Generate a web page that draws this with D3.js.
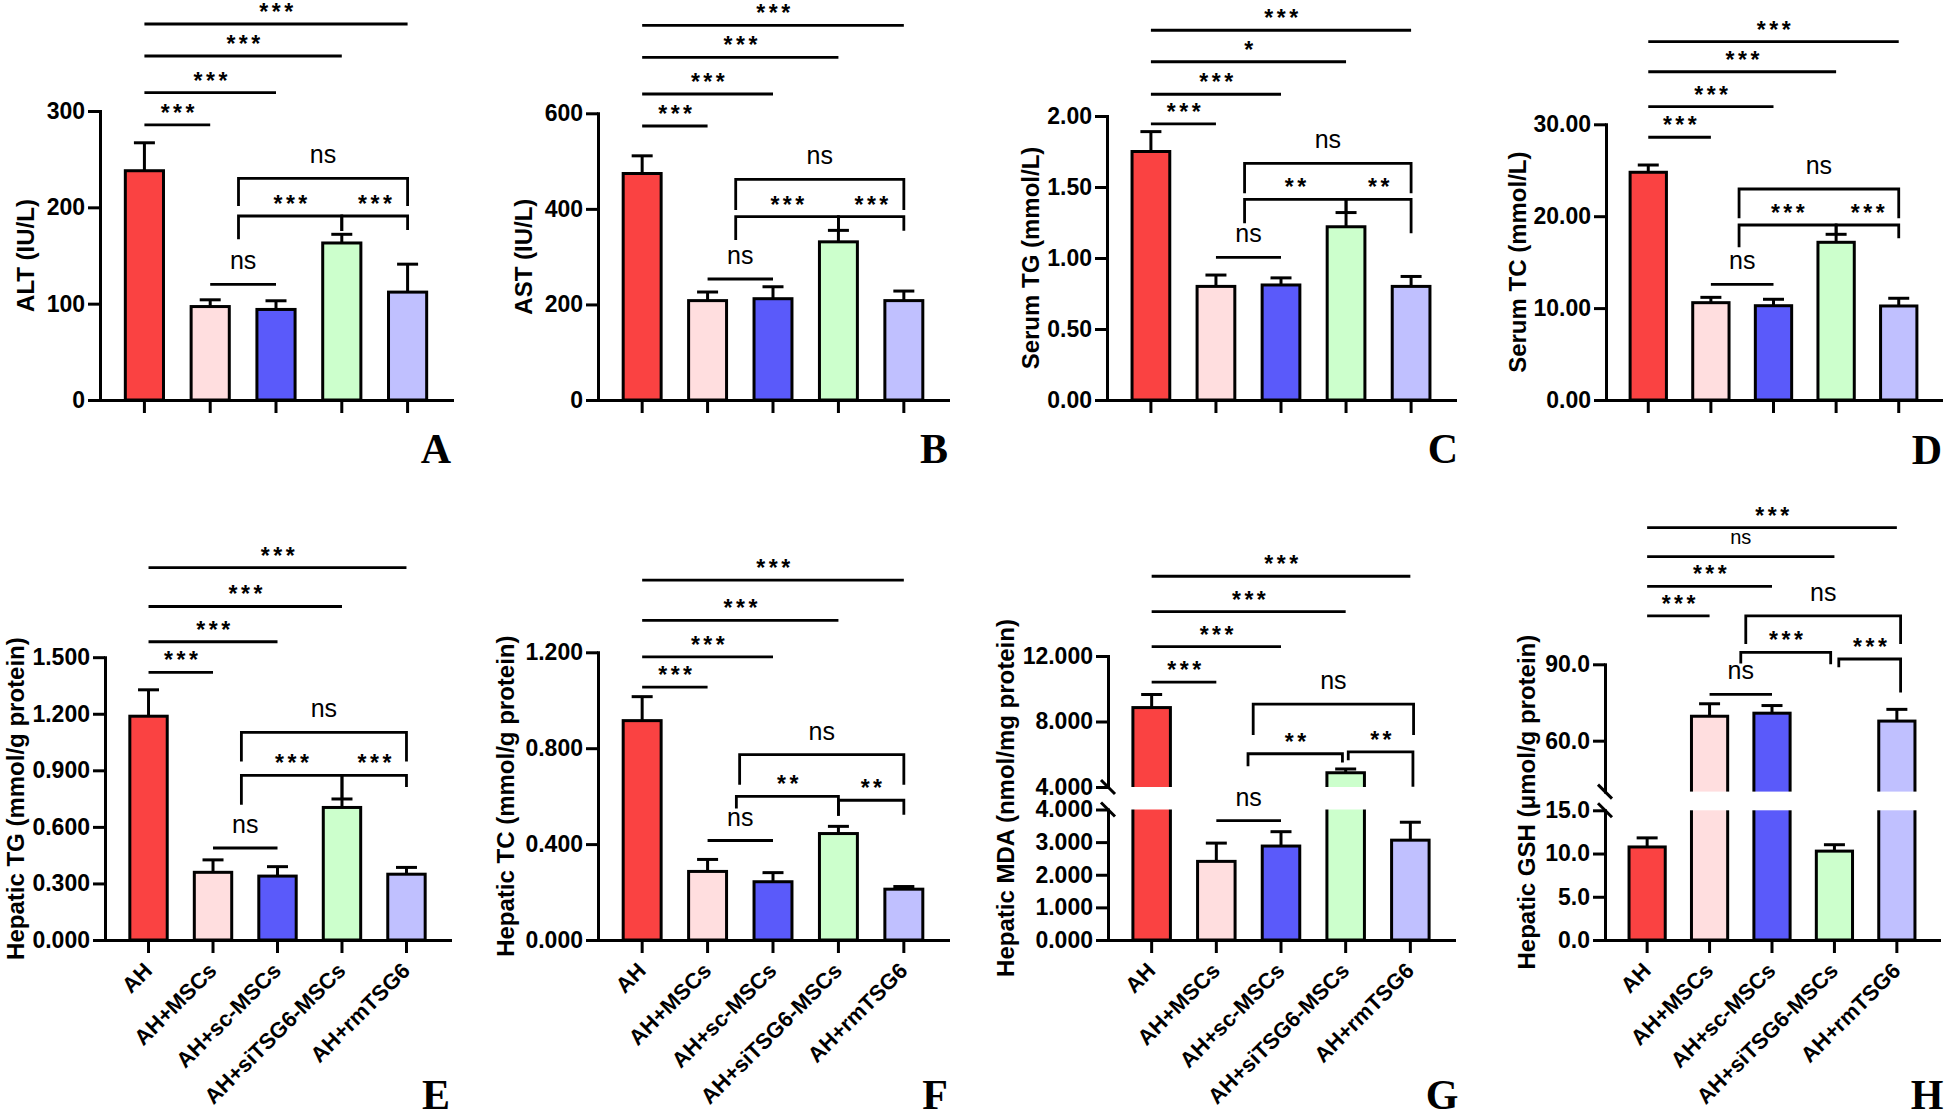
<!DOCTYPE html>
<html><head><meta charset="utf-8">
<script src="https://cdn.jsdelivr.net/npm/d3@7"></script>
<style>
body{margin:0;background:#fff}
svg{display:block}
text{font-family:"Liberation Sans",Arial,sans-serif}
</style>
</head><body>
<svg id="chart" width="1946" height="1120"></svg>
<script>
// ---------- DATA ----------
const groups = ["AH","AH+MSCs","AH+sc-MSCs","AH+siTSG6-MSCs","AH+rmTSG6"];

const altMean = [238, 97, 94, 163, 112];
const altSD   = [29, 7, 9, 9, 29];
const astMean = [474, 208, 212, 331, 208];
const astSD   = [37, 18, 25, 24, 20];
const sTGMean = [1.75, 0.80, 0.81, 1.22, 0.80];
const sTGSD   = [0.14, 0.08, 0.05, 0.10, 0.07];
const sTCMean = [24.78, 10.59, 10.26, 17.16, 10.23];
const sTCSD   = [0.79, 0.58, 0.70, 0.87, 0.84];
const hTGMean = [1.187, 0.359, 0.339, 0.703, 0.349];
const hTGSD   = [0.140, 0.066, 0.050, 0.045, 0.036];
const hTCMean = [0.915, 0.286, 0.243, 0.444, 0.212];
const hTCSD   = [0.100, 0.050, 0.038, 0.030, 0.011];
const mdaMean = [8.85, 2.41, 2.88, 4.87, 3.06];
const mdaSD   = [0.80, 0.56, 0.44, 0.23, 0.55];
const gshMean = [10.76, 69.6, 70.8, 10.28, 67.7];
const gshSD   = [1.05, 4.9, 3.0, 0.74, 4.6];

const altTicks = [0, 100, 200, 300];
const astTicks = [0, 200, 400, 600];
const sTGTicks = [0, 0.5, 1.0, 1.5, 2.0];
const sTCTicks = [0, 10, 20, 30];
const hTGTicks = [0, 0.3, 0.6, 0.9, 1.2, 1.5];
const hTCTicks = [0, 0.4, 0.8, 1.2];
const mdaTicksLow  = [0, 1, 2, 3, 4];
const mdaTicksHigh = [4, 8, 12];
const gshTicksLow  = [0, 5, 10, 15];
const gshTicksHigh = [60, 90];

// significance annotations: [fromGroupIndex, toGroupIndex, y (data units), leftLegEnd, rightLegEnd, label, fontSize]
const annA = [[0,1,285.5,null,null,"***"],[0,2,319.0,null,null,"***"],[0,3,357.1,null,null,"***"],[0,4,390.3,null,null,"***"],
  [1.43,4,230.1,201.4,201.4,"ns"],[1.43,3,191.0,166.8,175.4,"***"],[3,4,191.0,175.4,176.5,"***"],[1,2,120.1,null,null,"ns"]];
const annB = [[0,1,573.4,null,null,"***"],[0,2,640.4,null,null,"***"],[0,3,717.2,null,null,"***"],[0,4,784.2,null,null,"***"],
  [1.43,4,461.9,397.6,397.6,"ns"],[1.43,3,383.6,334.8,354.3,"***"],[3,4,383.6,354.3,354.3,"***"],[1,2,253.2,null,null,"ns"]];
const annC = [[0,1,1.944,null,null,"***"],[0,2,2.153,null,null,"***"],[0,3,2.382,null,null,"*"],[0,4,2.604,null,null,"***"],
  [1.44,4,1.667,1.456,1.456,"ns"],[1.44,3,1.413,1.244,1.319,"**"],[3,4,1.413,1.319,1.174,"**"],[1,2,1.005,null,null,"ns"]];
const annD = [[0,1,28.59,null,null,"***"],[0,2,31.92,null,null,"***"],[0,3,35.72,null,null,"***"],[0,4,38.99,null,null,"***"],
  [1.45,4,22.96,19.77,19.77,"ns"],[1.45,3,19.04,16.62,18.03,"***"],[3,4,19.04,18.03,17.60,"***"],[1,2,12.59,null,null,"ns"]];
const annE = [[0,1,1.420,null,null,"***"],[0,2,1.582,null,null,"***"],[0,3,1.769,null,null,"***"],[0,4,1.975,null,null,"***"],
  [1.44,4,1.101,0.947,0.947,"ns"],[1.44,3,0.873,0.718,0.748,"***"],[3,4,0.873,0.748,0.811,"***"],[1,2,0.488,null,null,"ns"]];
const annF = [[0,1,1.055,null,null,"***"],[0,2,1.181,null,null,"***"],[0,3,1.333,null,null,"***"],[0,4,1.501,null,null,"***"],
  [1.49,4,0.773,0.648,0.648,"ns"],[1.44,3,0.599,0.549,0.518,"**"],[3,4,0.583,0.518,0.522,"**"],[1,2,0.415,null,null,"ns"]];
const annG = [[0,1,10.41,null,null,"***"],[0,2,12.57,null,null,"***"],[0,3,14.71,null,null,"***"],[0,4,16.87,null,null,"***"],
  [1.57,4.05,9.06,7.18,7.18,"ns"],[1.49,2.95,6.03,5.26,5.50,"**"],[3.04,4.04,6.14,5.64,4.01,"**"],[1,2,3.66,null,null,"ns"]];
const annH = [[0,4,143.65,null,null,"***"],[0,3,132.26,null,null,"ns",20],[0,2,120.6,null,null,"***"],[0,1,109.05,null,null,"***"],
  [1.58,4.06,109.05,97.97,97.97,"ns"],[1.5,2.94,94.71,90.27,90.0,"***"],[3.07,4.06,92.08,88.82,78.92,"***"],[1,2,78.18,null,null,"ns"]];

// ---------- STYLE / LAYOUT ----------
const colors = ["#FA4242","#FFDEDF","#5A5AFA","#CCFFCC","#C0C0FF"];
const panels = [
  {letter:"A", mean:altMean, sd:altSD, fmt:"d",   title:"ALT (IU/L)", left:100, right:452, titleX:25, lx:436, ly:463, ann:annA, xlab:false,
   segs:[{domain:[0,300], range:[400,111], ticks:altTicks}]},
  {letter:"B", mean:astMean, sd:astSD, fmt:"d",   title:"AST (IU/L)", left:598, right:948, titleX:523, lx:934, ly:463, ann:annB, xlab:false,
   segs:[{domain:[0,600], range:[400,113.3], ticks:astTicks}]},
  {letter:"C", mean:sTGMean, sd:sTGSD, fmt:".2f", title:"Serum TG (mmol/L)", left:1107, right:1455, titleX:1030, lx:1443, ly:463, ann:annC, xlab:false,
   segs:[{domain:[0,2], range:[400,116], ticks:sTGTicks}]},
  {letter:"D", mean:sTCMean, sd:sTCSD, fmt:".2f", title:"Serum TC (mmol/L)", left:1606, right:1941, titleX:1517, lx:1927, ly:464, ann:annD, xlab:false,
   segs:[{domain:[0,30], range:[400,124.3], ticks:sTCTicks}]},
  {letter:"E", mean:hTGMean, sd:hTGSD, fmt:".3f", title:"Hepatic TG (mmol/g protein)", left:105, right:450, titleX:15, lx:436, ly:1109, ann:annE, xlab:true,
   segs:[{domain:[0,1.5], range:[940,657.2], ticks:hTGTicks}]},
  {letter:"F", mean:hTCMean, sd:hTCSD, fmt:".3f", title:"Hepatic TC (mmol/g protein)", left:598, right:948, titleX:505, lx:935, ly:1109, ann:annF, xlab:true,
   segs:[{domain:[0,1.2], range:[940,652.3], ticks:hTCTicks}]},
  {letter:"G", mean:mdaMean, sd:mdaSD, fmt:".3f", title:"Hepatic MDA (nmol/mg protein)", left:1108, right:1454, titleX:1005, lx:1442, ly:1109, ann:annG, xlab:true,
   segs:[{domain:[0,4], range:[940,809.5], ticks:mdaTicksLow},{domain:[4,12], range:[787,656], ticks:mdaTicksHigh}]},
  {letter:"H", mean:gshMean, sd:gshSD, fmt:".1f", title:"Hepatic GSH (\u03bcmol/g protein)", left:1605, right:1939, titleX:1526, lx:1927, ly:1109, ann:annH, xlab:true,
   segs:[{domain:[0,15], range:[940,810.3], ticks:gshTicksLow},{domain:[40,90], range:[791.6,664.3], ticks:gshTicksHigh}]}
];

const svg = d3.select("#chart");
const FONT = '"Liberation Sans", Arial, sans-serif';

function drawPanel(p){
  const g = svg.append("g");
  const xs = d3.scaleBand().domain(groups).range([p.left, p.right]).paddingInner(0.42).paddingOuter(0.385);
  const scs = p.segs.map(s => d3.scaleLinear().domain(s.domain).range(s.range));
  const ys = v => {
    for (let i = 0; i < p.segs.length; i++) {
      if (i === p.segs.length - 1 || v <= p.segs[i].domain[1]) return scs[i](v);
    }
  };
  const y0 = p.segs[0].range[0];
  const cx = i => xs(groups[0]) + xs.bandwidth() / 2 + i * xs.step();

  // bars
  g.selectAll("rect.bar").data(p.mean).join("rect").attr("class","bar")
    .attr("x", (d,i) => xs(groups[i])).attr("width", xs.bandwidth())
    .attr("y", d => ys(d)).attr("height", d => y0 - ys(d))
    .attr("fill", (d,i) => colors[i]).attr("stroke", "#000").attr("stroke-width", 3);

  // error bars (upper only)
  const eb = g.selectAll("g.eb").data(p.mean).join("g").attr("class","eb")
    .attr("stroke","#000").attr("stroke-width",3);
  eb.append("line").attr("x1",(d,i)=>cx(i)).attr("x2",(d,i)=>cx(i))
    .attr("y1",d=>ys(d)).attr("y2",(d,i)=>ys(d + p.sd[i]));
  eb.append("line").attr("x1",(d,i)=>cx(i)-10.5).attr("x2",(d,i)=>cx(i)+10.5)
    .attr("y1",(d,i)=>ys(d + p.sd[i])).attr("y2",(d,i)=>ys(d + p.sd[i]));

  // axis break gap
  if (p.segs.length > 1) {
    const yb = p.segs[1].range[0], yt = p.segs[0].range[1];
    g.append("rect").attr("x", p.left + 2).attr("y", yb).attr("width", p.right - p.left)
      .attr("height", yt - yb).attr("fill", "#fff");
  }

  // y axes
  p.segs.forEach((s, i) => {
    const ax = g.append("g").attr("transform", `translate(${p.left},0)`)
      .call(d3.axisLeft(scs[i]).tickValues(s.ticks).tickFormat(d3.format(p.fmt))
        .tickSize(12).tickSizeOuter(0).tickPadding(3));
    ax.attr("font-family", FONT).attr("font-size", 23).attr("font-weight", "bold");
    ax.select(".domain").attr("stroke-width", 3).attr("stroke-linecap","square");
    ax.selectAll(".tick line").attr("stroke-width", 3);
    ax.selectAll(".tick text").attr("fill", "#000");
  });

  // break marks
  if (p.segs.length > 1) {
    [p.segs[1].range[0], p.segs[0].range[1]].forEach(yy => {
      g.append("line").attr("x1", p.left - 7).attr("y1", yy - 7).attr("x2", p.left + 7).attr("y2", yy + 7)
        .attr("stroke", "#000").attr("stroke-width", 3);
    });
  }

  // x axis
  const xa = g.append("g").attr("transform", `translate(0,${y0})`)
    .call(d3.axisBottom(xs).tickSize(13).tickSizeOuter(0).tickFormat(p.xlab ? (d => d) : () => ""));
  xa.attr("font-family", FONT).attr("font-size", 22).attr("font-weight", "bold");
  xa.select(".domain").attr("stroke-width", 3).attr("stroke-linecap","square");
  xa.selectAll(".tick line").attr("stroke-width", 3);
  xa.selectAll(".tick text").attr("fill", "#000").attr("y", 0).attr("dy", 0)
    .attr("text-anchor", "end").attr("transform", "translate(5,32) rotate(-45)");

  // significance annotations
  p.ann.forEach(a => {
    const [ia, ib, yv, ya, yb, label, fs] = a;
    const x1 = cx(ia), x2 = cx(ib), yy = ys(yv);
    const d = (ya == null) ? `M${x1},${yy}H${x2}` : `M${x1},${ys(ya)}V${yy}H${x2}V${ys(yb)}`;
    g.append("path").attr("d", d).attr("fill", "none").attr("stroke", "#000").attr("stroke-width", 2.8);
    const mx = (x1 + x2) / 2;
    if (label === "ns") {
      const f = fs || 25;
      g.append("text").attr("x", mx).attr("y", yy - (f === 25 ? 15 : 12.5)).attr("text-anchor", "middle")
        .attr("font-size", f).attr("fill", "#000").text(label);
    } else {
      g.append("text").attr("x", mx).attr("dx", 2).attr("y", yy - 4).attr("text-anchor", "middle")
        .attr("font-size", 23).attr("font-weight", "bold").attr("letter-spacing", 3.5).attr("fill", "#000").text(label);
    }
  });

  // y title
  const midY = (p.segs[0].range[0] + p.segs[p.segs.length - 1].range[1]) / 2;
  g.append("text").attr("transform", `translate(${p.titleX},${midY}) rotate(-90)`)
    .attr("text-anchor", "middle").attr("dominant-baseline", "central")
    .attr("font-size", 24).attr("font-weight", "bold").attr("fill", "#000").text(p.title);

  // panel letter
  g.append("text").attr("x", p.lx).attr("y", p.ly).attr("text-anchor", "middle")
    .style("font-family", '"Liberation Serif", "Times New Roman", serif')
    .attr("font-size", 42).attr("font-weight", "bold").attr("fill", "#000").text(p.letter);
}

panels.forEach(drawPanel);
</script>
</body></html>
